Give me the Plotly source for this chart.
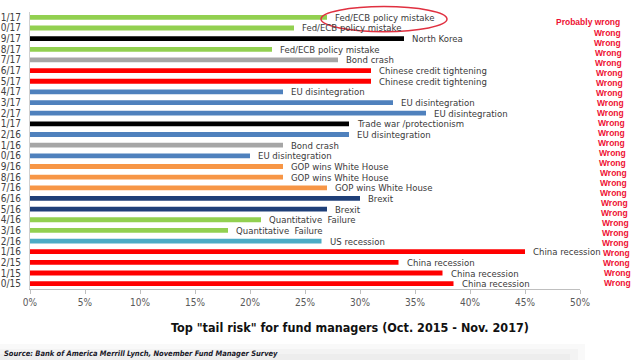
import plotly.graph_objects as go

# ---- data (top row first) ----
months = ["1/17", "0/17", "9/17", "8/17", "7/17", "6/17", "5/17", "4/17", "3/17", "2/17",
          "1/17", "2/16", "1/16", "0/16", "9/16", "8/16", "7/16", "6/16", "5/16", "4/16",
          "3/16", "2/16", "1/16", "2/15", "1/15", "0/15"]
risks = ["Fed/ECB policy mistake", "Fed/ECB policy mistake", "North Korea", "Fed/ECB policy mistake",
         "Bond crash", "Chinese credit tightening", "Chinese credit tightening", "EU disintegration",
         "EU disintegration", "EU disintegration", "Trade war /protectionism", "EU disintegration",
         "Bond crash", "EU disintegration", "GOP wins White House", "GOP wins White House",
         "GOP wins White House", "Brexit", "Brexit", "Quantitative  Failure", "Quantitative  Failure",
         "US recession", "China recession", "China recession", "China recession", "China recession"]
shares = [27, 24, 34, 22, 28, 31, 31, 23, 33, 36, 29, 29, 23, 20, 23, 23, 27, 30, 27, 21, 18,
          26.5, 45, 33.5, 37.5, 38.5]
verdicts = ["Probably wrong"] + ["Wrong"] * 26
x_ticks = [0, 5, 10, 15, 20, 25, 30, 35, 40, 45, 50]

risk_colors = {
    "Fed/ECB policy mistake": "#92d050",
    "North Korea": "#000000",
    "Bond crash": "#a6a6a6",
    "Chinese credit tightening": "#ff0000",
    "EU disintegration": "#4f81bd",
    "Trade war /protectionism": "#000000",
    "GOP wins White House": "#f79646",
    "Brexit": "#1f3f78",
    "Quantitative  Failure": "#92d050",
    "US recession": "#4bacc6",
    "China recession": "#ff0000",
}

n = len(months)
ypos = [n - 1 - i for i in range(n)]  # top row has highest index
colors = [risk_colors[r] for r in risks]

NARROW = "DejaVu Sans Condensed, Liberation Sans Narrow, Arial Narrow, sans-serif"

# layout geometry (pixels)
W, H = 640, 360
L, R, T, B = 30, 60, 12.4, 71
plot_w = W - L - R
plot_h = H - T - B


def px_x(px):
    return (px - L) / plot_w


def px_y(py):
    return (H - B - py) / plot_h


fig = go.Figure()
fig.add_trace(go.Bar(
    x=shares, y=ypos, orientation="h", width=0.45,
    marker=dict(color=colors, line=dict(width=0)),
    hoverinfo="skip",
))

annotations = []
for v, yy, r in zip(shares, ypos, risks):
    annotations.append(dict(
        x=v, y=yy, xref="x", yref="y", text=r, showarrow=False,
        xanchor="left", yanchor="middle", xshift=6,
        font=dict(family=NARROW, size=9.5, color="#3a3a3a"),
    ))

# verdict column (overlay, not aligned to rows)
for k, t in enumerate(verdicts):
    if k == 0:
        py, right = 22, 622
    else:
        py = 33 + (k - 1) * 10
        right = 623 + (py - 33) / 250 * 10
    annotations.append(dict(
        x=px_x(right), y=px_y(py), xref="paper", yref="paper", text=t, showarrow=False,
        xanchor="right", yanchor="middle", xshift=0,
        font=dict(family="Liberation Sans, Arial, sans-serif", size=8.5, color="#ee1133", weight="bold"),
    ))

annotations.append(dict(
    x=px_x(350), y=px_y(327), xref="paper", yref="paper",
    text='Top "tail risk" for fund managers (Oct. 2015 - Nov. 2017)', showarrow=False,
    xanchor="center", yanchor="middle",
    font=dict(family=NARROW, size=12.5, color="#111111", weight="bold"),
))
annotations.append(dict(
    x=px_x(2), y=px_y(353), xref="paper", yref="paper",
    text="Source: Bank of America Merrill Lynch, November Fund Manager Survey", showarrow=False,
    xanchor="left", yanchor="middle",
    font=dict(family=NARROW, size=7.5, color="#1a1a2a", weight="bold", style="italic"),
))

shapes = [
    dict(type="circle", xref="paper", yref="paper",
         x0=px_x(321), x1=px_x(447), y0=px_y(32), y1=px_y(7),
         line=dict(color="#e03040", width=1.5), layer="above"),
]
for top, right in ((344, 585), (349, 578), (354, 570)):
    shapes.append(dict(type="rect", xref="paper", yref="paper",
                       x0=px_x(0), x1=px_x(right), y0=px_y(360), y1=px_y(top),
                       fillcolor="rgba(0,0,0,0.022)", line=dict(width=0), layer="below"))

fig.update_layout(
    width=W, height=H,
    margin=dict(l=L, r=R, t=T, b=B, pad=0, autoexpand=False),
    paper_bgcolor="white", plot_bgcolor="white",
    showlegend=False,
    bargap=0.55,
    annotations=annotations,
    shapes=shapes,
    xaxis=dict(
        range=[0, 50], tickvals=x_ticks, ticktext=[f"{t}%" for t in x_ticks],
        showgrid=False, zeroline=False, showline=True, linecolor="#bfbfbf", linewidth=1,
        ticks="outside", ticklen=4, tickcolor="#bfbfbf", automargin=False,
        tickfont=dict(family=NARROW, size=10, color="#595959"),
        fixedrange=True,
    ),
    yaxis=dict(
        range=[-0.5, n - 0.5], tickvals=ypos, ticktext=months,
        showgrid=False, zeroline=False, showline=True, linecolor="#d0d0d0", linewidth=1,
        ticks="", ticklabelstandoff=6, automargin=False,
        tickfont=dict(family=NARROW, size=10, color="#404040"),
        fixedrange=True,
    ),
)

fig.write_html("out.html", config={"displayModeBar": False},
               post_script="document.body.style.margin='0px';")
